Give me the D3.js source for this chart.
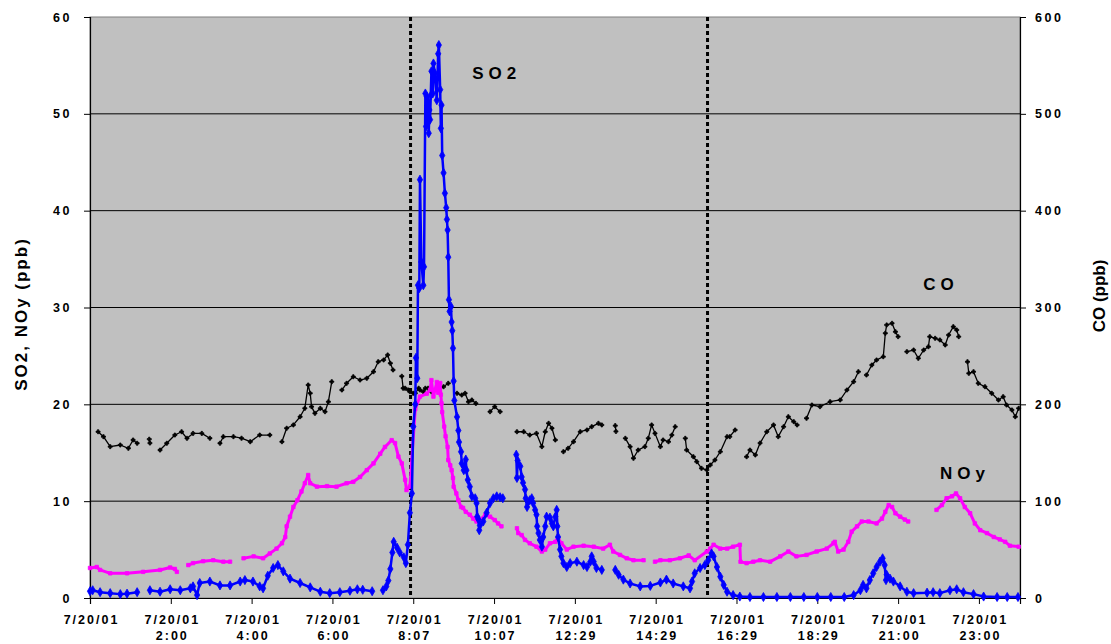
<!DOCTYPE html>
<html>
<head>
<meta charset="utf-8">
<script src="https://cdn.jsdelivr.net/npm/d3@7"></script>
<style>
  body { margin: 0; background: #fff; }
  text { font-family: "Liberation Sans", Arial, sans-serif; font-weight: bold; }
</style>
</head>
<body>
<div id="chart"></div>
<script>
// x = record number (category axis, one tick label every 120 records)
const recsPerTick = 120;
const nRecs = 1381;
const tickDates = ["7/20/01","7/20/01","7/20/01","7/20/01","7/20/01","7/20/01","7/20/01","7/20/01","7/20/01","7/20/01","7/20/01","7/20/01"];
const tickTimes = ["", "2:00", "4:00", "6:00", "8:07", "10:07", "12:29", "14:29", "16:29", "18:29", "21:00", "23:00"];
const leftTicks = [0, 10, 20, 30, 40, 50, 60];
const rightTicks = [0, 100, 200, 300, 400, 500, 600];
const markerRecs = [476, 917];   // dotted vertical lines

// SO2 (ppb), left axis -- [record, value], null = gap
const so2 = [
  [0,0.7],[4,0.8],[15,0.6],[30,0.5],[45,0.4],[55,0.45],[70,0.6],[79,null],
  [89,0.8],[104,0.65],[119,0.9],[134,0.8],[149,1.0],[153,1.2],[159,0.3],[163,1.55],[178,1.7],[193,1.3],
  [208,1.3],[223,1.7],[230,1.85],[242,1.7],[252,1.2],[257,1.0],[264,2.3],[272,3.1],[279,3.4],[287,2.75],
  [297,2.0],[312,1.55],[327,1.1],[342,0.65],[356,0.5],[371,0.6],[386,0.75],[397,0.9],[405,0.85],[419,0.7],[427,null],
  [435,0.8],[440,1.2],[443,1.8],[446,3.0],[449,4.7],[451,5.8],[456,5.2],[460,4.7],[466,4.2],[469,3.6],
  [472,5.5],[475,8.8],[478,10.8],[480,17.7],[483,20],[484,24.8],[486,22.7],[487,32.3],[489,32.0],[490,43.2],
  [492,34.7],[495,32.3],[496,34.2],[498,52.1],[499,48.7],[500,51.8],[502,51.3],[503,48],[504,50.4],[505,49.4],
  [506,51.9],[507,54.4],[509,52.1],[510,55.2],[512,54.2],[515,51.4],[517,56.2],[518,57.1],[520,52.5],[521,48.5],
  [522,50.9],[523,45.7],[525,43.9],[527,41.8],[529,40.3],[530,39.1],[531,38],[532,35.2],[533,30.8],[534,29.6],
  [536,30.1],[537,28.5],[538,27.6],[539,25.8],[540,22.4],[541,20.4],[545,18.7],[547,17.3],[548,16.1],[551,15.1],
  [552,13.9],[555,13.2],[558,14.3],[559,13.2],[561,12.2],[564,11.5],[567,10.5],[572,10.3],[574,9.8],[575,8.4],
  [577,8.1],[578,7.0],[579,7.5],[584,7.9],[589,8.8],[594,9.8],[599,10.3],[604,10.5],[609,10.4],[613,10.3],[623,null],
  [633,14.8],[634,12.4],[635,14.2],[639,13.6],[641,12.5],[643,11.9],[646,11.2],[647,10.3],[649,9.4],[653,10.1],
  [656,10.3],[658,9.8],[661,9.1],[663,8.6],[664,7.4],[666,6.7],[668,6.0],[671,5.3],[673,6.3],[676,7.4],[678,8.4],
  [683,8.3],[686,7.7],[688,7.4],[691,8.4],[693,9.1],[694,7.4],[695,6.3],[698,5.0],[700,4.3],[703,3.6],[708,3.2],
  [713,3.6],[723,3.75],[733,3.4],[738,3.2],[743,3.75],[745,4.3],[748,3.75],[752,3.1],[760,2.9],[770,null],
  [780,2.9],[785,2.4],[792,1.9],[802,1.5],[817,1.2],[832,1.25],[847,1.6],[856,1.9],[866,1.5],[881,1.2],[891,1.0],
  [894,1.7],[898,2.55],[906,3.1],[913,3.4],[918,3.9],[923,4.6],[926,4.3],[931,3.2],[936,2.2],[941,1.35],[946,0.65],
  [955,0.3],[965,0.15],[980,0.1],[1000,0.1],[1020,0.1],[1040,0.1],[1060,0.1],[1080,0.1],[1100,0.1],[1120,0.1],
  [1134,0.3],[1144,0.8],[1148,1.35],[1153,1.0],[1158,1.85],[1163,2.55],[1168,3.2],[1173,3.75],[1177,4.1],[1180,3.4],
  [1182,1.85],[1183,2.4],[1188,2.0],[1193,1.7],[1203,1.2],[1213,0.65],[1223,0.5],[1243,0.55],[1252,0.6],[1262,0.5],
  [1277,0.8],[1287,0.9],[1297,0.6],[1312,0.4],[1327,0.15],[1347,0.1],[1362,0.1],[1378,0.1]
];

// NOy (ppb), left axis
const noy = [
  [0,3.1],[10,3.2],[15,2.9],[30,2.55],[55,2.55],[79,2.7],[104,2.9],[119,3.15],[126,3.0],[129,2.7],[137,null],
  [146,3.4],[153,3.6],[168,3.8],[183,3.9],[198,3.75],[208,3.75],[218,null],
  [228,4.1],[243,4.3],[257,4.1],[267,4.6],[277,5.1],[285,5.65],[290,6.3],[292,7.4],[297,8.4],[302,9.4],[308,10.1],
  [314,11.0],[319,11.85],[324,12.7],[327,11.85],[337,11.5],[352,11.55],[366,11.5],[381,11.85],[391,12.0],[401,12.5],
  [411,13.2],[421,13.9],[431,14.9],[438,15.6],[448,16.3],[453,16.0],[458,14.6],[463,13.9],[468,12.2],[470,11.15],
  [475,11.5],[483,19.5],[490,20.8],[500,21.1],[505,21.5],[507,22.5],[510,20.8],[515,22.3],[517,21.2],[520,22.2],
  [521,21],[522,20.1],[523,19.2],[526,17.7],[528,16.7],[531,15.6],[532,14.25],[535,13.7],[537,13.2],[539,12.4],
  [540,11.5],[544,10.8],[547,10.1],[551,9.4],[554,9.3],[558,8.9],[564,8.6],[569,8.2],[574,7.9],[579,8.05],[587,8.6],
  [594,8.4],[601,8.05],[606,7.7],[611,7.4],[622,null],
  [634,7.2],[636,6.7],[641,6.5],[646,6.0],[653,5.65],[663,5.3],[671,4.8],[676,5.0],[683,5.65],[691,5.8],[695,6.2],
  [700,5.65],[708,5.0],[718,5.3],[733,5.4],[748,5.3],[762,5.1],[772,5.5],[777,4.8],[787,4.45],[797,4.1],[807,3.9],
  [822,3.9],[830,null],
  [839,3.75],[847,3.9],[861,3.9],[876,4.1],[889,4.4],[898,3.9],[916,4.8],[921,5.1],[926,5.5],[936,5.1],[946,5.1],
  [955,5.3],[965,5.5],[966,3.75],[975,3.6],[985,3.75],[995,3.9],[1010,3.75],[1025,4.3],[1037,4.8],[1049,4.3],
  [1064,4.45],[1079,4.8],[1094,5.1],[1104,5.65],[1106,5.8],[1111,4.8],[1119,5.0],[1126,5.8],[1131,6.85],[1139,7.4],
  [1146,7.9],[1156,7.9],[1168,7.7],[1176,8.2],[1181,8.9],[1186,9.6],[1191,9.4],[1196,8.75],[1203,8.4],[1210,8.1],
  [1215,7.9],[1236,null],
  [1257,9.1],[1265,9.6],[1272,10.3],[1280,10.5],[1286,10.8],[1292,10.3],[1299,9.4],[1307,8.75],[1314,7.7],[1322,7.0],
  [1332,6.7],[1342,6.3],[1351,6.05],[1359,5.8],[1366,5.4],[1379,5.3]
];

// CO (ppb), right axis
const co = [
  [12,171.7],[20,166.6],[30,156.3],[45,158],[57,154.6],[64,163.2],[70,159.8],[79,null],
  [88,164],[89,160],[96,null],
  [104,152.8],[114,159.8],[126,168.3],[136,171.7],[144,164.9],[153,170],[166,170],[178,165],[186,null],
  [193,159.8],[198,166.6],[213,166.6],[225,165],[238,161.4],[252,168.3],[267,168.3],[276,null],
  [285,161.4],[292,175.3],[302,178.7],[312,187.2],[319,195.9],[324,220],[327,211.4],[329,197.6],[334,190.7],
  [342,195.9],[349,192.4],[354,202.7],[359,223.4],[366,null],
  [374,214.8],[381,221.7],[391,228.5],[401,225.1],[411,226.9],[421,233.7],[428,244],[436,245.8],[442,251],
  [446,242.4],[450,235.5],[456,null],
  [463,229],[465,216.6],[468,216.6],[473,214.8],[475,213],[480,211.4],[483,211.4],[488,216.6],[490,214.8],
  [495,213],[498,216.6],[502,216.6],[507,213],[517,214.8],[525,218.2],[532,221.7],[538,null],
  [545,211.4],[552,209.6],[557,211.4],[562,202.7],[567,204.5],[573,201],[583,null],
  [594,192.4],[601,197.6],[609,192.4],[620,null],
  [634,171.7],[644,171.7],[653,168.3],[663,170],[671,156.3],[676,171.7],[681,180.4],[686,175.3],[691,163.2],[697,null],
  [703,151.1],[710,154.6],[718,161.4],[728,171.7],[738,173.5],[745,176.9],[755,180.4],[760,178.7],[770,null],
  [780,178],[781,172],[788,null],
  [795,164.9],[802,156.3],[807,144.3],[814,152.8],[824,156.3],[829,164.9],[834,178.7],[839,170],[847,156.3],
  [851,163.2],[859,161.4],[864,168.3],[869,176.9],[877,null],
  [884,164.9],[886,152.8],[896,145.9],[901,140.8],[908,133.9],[916,132.2],[921,137.3],[928,142.5],[936,151.1],
  [946,166.6],[950,166.6],[958,173.5],[966,null],
  [975,145.9],[980,152.8],[988,147.7],[995,160],[1005,171.7],[1015,178.7],[1022,166.6],[1030,176.9],[1037,187.2],
  [1045,182.1],[1050,178.7],[1057,null],
  [1064,185.6],[1072,199.3],[1084,197.6],[1099,202.7],[1114,204.5],[1124,214.8],[1134,223.4],[1141,233.7],[1147,null],
  [1153,230.3],[1161,240.6],[1168,245.8],[1178,249.2],[1181,273.4],[1183,282],[1191,283.7],[1196,275],[1200,269.9],[1206,null],
  [1213,254.4],[1223,256.1],[1230,247.5],[1238,256.1],[1245,259.5],[1247,269.9],[1255,268.2],[1262,266.5],
  [1270,261.3],[1275,271.6],[1282,280.2],[1287,276.8],[1290,269.9],[1297,null],
  [1303,244],[1305,232],[1312,233.7],[1319,221.7],[1329,218.2],[1339,211.4],[1349,204.5],[1356,207.9],
  [1361,199.3],[1369,194.2],[1374,187.2],[1379,195.9]
];

const W = 1111, H = 644;
const margin = { left: 90, right: 91, top: 17, bottom: 46 };
const iw = W - margin.left - margin.right;
const ih = H - margin.top - margin.bottom;

const svg = d3.select("#chart").append("svg")
  .attr("width", W)
  .attr("height", H);

const g = svg.append("g").attr("transform", `translate(${margin.left},${margin.top})`);

const x = d3.scaleLinear().domain([0, nRecs]).range([0, iw]);
const yL = d3.scaleLinear().domain([0, 60]).range([ih, 0]);
const yR = d3.scaleLinear().domain([0, 600]).range([ih, 0]);

// plot area
g.append("rect")
  .attr("width", iw).attr("height", ih)
  .attr("fill", "#c0c0c0")
  .attr("stroke", "#808080");

// gridlines
g.selectAll("line.grid")
  .data(leftTicks.slice(1, -1))
  .enter().append("line")
  .attr("class", "grid")
  .attr("x1", 0).attr("x2", iw)
  .attr("y1", d => yL(d)).attr("y2", d => yL(d))
  .attr("stroke", "#000").attr("stroke-width", 1);

// axes
const axL = g.append("g")
  .call(d3.axisLeft(yL).tickValues(leftTicks).tickSize(6).tickPadding(12));
const axR = g.append("g")
  .attr("transform", `translate(${iw},0)`)
  .call(d3.axisRight(yR).tickValues(rightTicks).tickSize(6).tickPadding(9));
const axB = g.append("g")
  .attr("transform", `translate(0,${ih})`)
  .call(d3.axisBottom(x).tickValues(d3.range(0, tickTimes.length).map(i => i * recsPerTick)).tickSize(6).tickFormat(""));

[axL, axR, axB].forEach(a => {
  a.select(".domain").attr("stroke", "#000").attr("stroke-width", 1.2);
  a.selectAll(".tick line").attr("stroke", "#000");
  a.selectAll("text").attr("font-size", 12.5).attr("fill", "#000").style("letter-spacing", "2.5px");
});

axB.selectAll(".tick").each(function(d, i) {
  const t = d3.select(this).append("text")
    .attr("fill", "#000")
    .attr("text-anchor", "middle")
    .attr("font-size", 12.5)
    .style("letter-spacing", "2px");
  t.append("tspan").attr("x", 1).attr("y", 26).text(tickDates[i]);
  t.append("tspan").attr("x", 1).attr("y", 42).text(tickTimes[i]);
});

// dotted event lines
g.selectAll("line.event")
  .data(markerRecs)
  .enter().append("line")
  .attr("x1", d => x(d)).attr("x2", d => x(d))
  .attr("y1", 0).attr("y2", ih)
  .attr("stroke", "#000")
  .attr("stroke-width", 3)
  .attr("stroke-dasharray", "4,3");

function drawSeries(data, y, color, lw, symbol, size) {
  const line = d3.line()
    .defined(d => d[1] != null)
    .x(d => x(d[0]))
    .y(d => y(d[1]));
  g.append("path")
    .datum(data)
    .attr("d", line)
    .attr("fill", "none")
    .attr("stroke", color)
    .attr("stroke-width", lw)
    .attr("stroke-linejoin", "round");
  g.append("g").selectAll("path")
    .data(data.filter(d => d[1] != null))
    .enter().append("path")
    .attr("d", d3.symbol().type(symbol).size(size))
    .attr("transform", d => `translate(${x(d[0])},${y(d[1])})`)
    .attr("fill", color)
    .attr("stroke", color)
    .attr("stroke-width", 0.8);
}

drawSeries(co, yR, "#000", 1.3, d3.symbolCross, 9);
drawSeries(noy, yL, "#ff00ff", 3, d3.symbolSquare, 12);
drawSeries(so2, yL, "#0000ff", 2.5, d3.symbolDiamond, 24);

// series labels
const labels = [
  { t: "SO2", v: 53.6, r: 0.411, axis: yL },
  { t: "CO", v: 31.8, r: 0.896, axis: yL },
  { t: "NOy", v: 12.3, r: 0.914, axis: yL }
];
g.selectAll("text.lab")
  .data(labels)
  .enter().append("text")
  .attr("class", "lab")
  .attr("x", d => d.r * iw)
  .attr("y", d => d.axis(d.v))
  .attr("font-size", 17)
  .style("letter-spacing", "5px")
  .text(d => d.t);

// axis titles
svg.append("text")
  .attr("transform", `translate(27,314) rotate(-90)`)
  .attr("text-anchor", "middle")
  .attr("font-size", 17)
  .style("letter-spacing", "2px")
  .text("SO2, NOy (ppb)");
svg.append("text")
  .attr("transform", `translate(1105,296) rotate(-90)`)
  .attr("text-anchor", "middle")
  .attr("font-size", 17)
  .text("CO (ppb)");
</script>
</body>
</html>
